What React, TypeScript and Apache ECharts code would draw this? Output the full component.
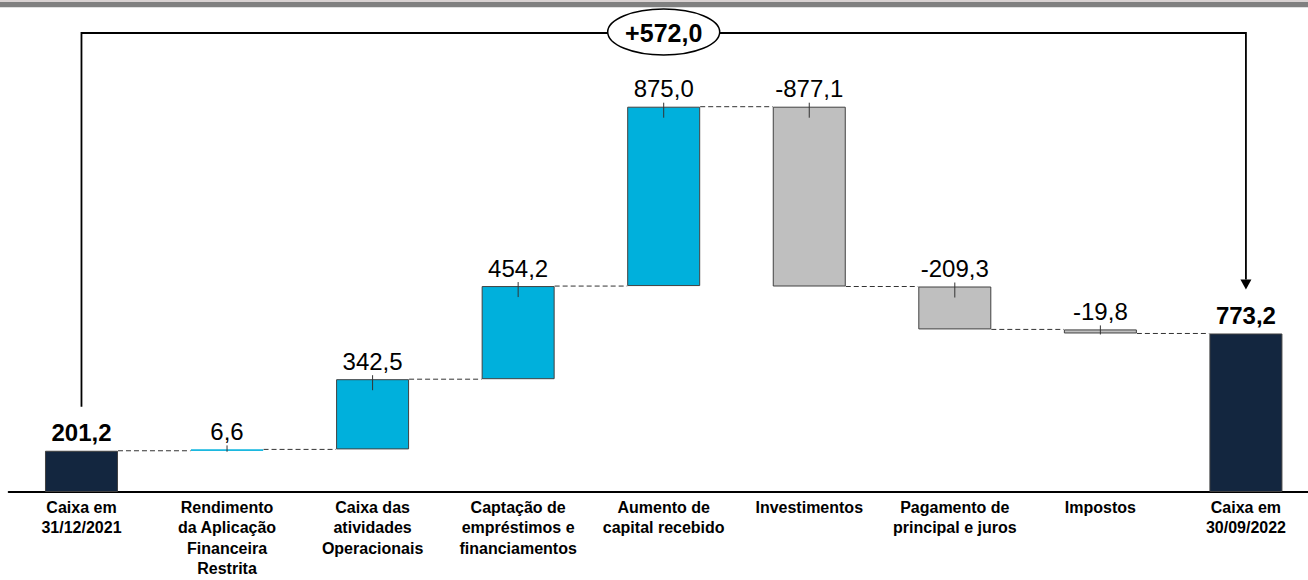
import React, { useEffect, useRef } from "react";
import * as echarts from "echarts";

const categories = [
  "Caixa em\n31/12/2021",
  "Rendimento\nda Aplicação\nFinanceira\nRestrita",
  "Caixa das\natividades\nOperacionais",
  "Captação de\nempréstimos e\nfinanciamentos",
  "Aumento de\ncapital recebido",
  "Investimentos",
  "Pagamento de\nprincipal e juros",
  "Impostos",
  "Caixa em\n30/09/2022",
];
const deltas = [201.2, 6.6, 342.5, 454.2, 875.0, -877.1, -209.3, -19.8, 773.2];
const kinds = ["total", "up", "up", "up", "up", "down", "down", "down", "total"];
const valueLabels = ["201,2", "6,6", "342,5", "454,2", "875,0", "-877,1", "-209,3", "-19,8", "773,2"];
const bracketLabel = "+572,0";

const FONT = "'Liberation Sans', Arial, sans-serif";
const NAVY = "#13263f";
const BLUE = "#00b0dc";
const GRAY = "#bfbfbf";
const EDGE = "#404040";
const BAR_W = 73;

export default function App() {
  const ref = useRef<HTMLDivElement>(null);
  useEffect(() => {
    if (!ref.current) return;
    const chart = echarts.init(ref.current, null, { renderer: "svg" });

    const starts: number[] = [];
    const ends: number[] = [];
    let run = 0;
    deltas.forEach((v, i) => {
      if (kinds[i] === "total") {
        starts.push(0);
        ends.push(v);
        run = v;
      } else {
        starts.push(run);
        run = run + v;
        ends.push(run);
      }
    });
    const lows = starts.map((s, i) => Math.min(s, ends[i]));
    const highs = starts.map((s, i) => Math.max(s, ends[i]));
    const n = categories.length;

    const colorOf = (k: string) => (k === "total" ? NAVY : k === "up" ? BLUE : GRAY);

    const option: any = {
      animation: false,
      grid: {
        left: 8.7,
        width: 1310,
        top: 82,
        bottom: 88,
        containLabel: false,
        outerBoundsMode: "none",
      },
      xAxis: {
        type: "category",
        data: categories,
        axisTick: { show: false },
        axisLine: { lineStyle: { color: "#000", width: 2 } },
        axisLabel: {
          interval: 0,
          color: "#000",
          fontFamily: FONT,
          fontSize: 16,
          fontWeight: "bold",
          lineHeight: 20.5,
          margin: 5,
        },
      },
      yAxis: { type: "value", min: 0, max: 2000, show: false, splitLine: { show: false } },
      graphic: [
        { type: "rect", shape: { x: 0, y: 0, width: 1308, height: 2 }, style: { fill: "#d9d2d2" } },
        { type: "rect", shape: { x: 0, y: 2, width: 1308, height: 5.3 }, style: { fill: "#808080" } },
      ],
      series: [
        {
          type: "bar",
          stack: "w",
          barWidth: BAR_W,
          silent: true,
          itemStyle: { color: "transparent" },
          data: lows,
        },
        {
          type: "bar",
          stack: "w",
          barWidth: BAR_W,
          data: deltas.map((v, i) => ({
            value: highs[i] - lows[i],
            itemStyle: {
              color: colorOf(kinds[i]),
              borderColor: i === 1 ? BLUE : EDGE,
              borderWidth: 1,
            },
            label: {
              show: true,
              position: "top",
              distance: 6,
              formatter: valueLabels[i],
              fontFamily: FONT,
              fontSize: 24,
              fontWeight: kinds[i] === "total" ? "bold" : "normal",
              color: "#000",
            },
          })),
        },
        {
          type: "custom",
          clip: false,
          silent: true,
          z: 5,
          data: categories.map((_, i) => [i, ends[i], highs[i], lows[i]]),
          renderItem: (params: any, api: any) => {
            const i = api.value(0);
            const band = api.size([1, 0])[0];
            const half = BAR_W / 2;
            const children: any[] = [];
            if (i < n - 1) {
              const p = api.coord([i, api.value(1)]);
              children.push({
                type: "line",
                shape: { x1: p[0] + half, y1: p[1], x2: p[0] + band - half, y2: p[1] },
                style: { stroke: "#333", lineWidth: 1, lineDash: [5, 3] },
              });
            }
            if (kinds[i] !== "total") {
              const t = api.coord([i, api.value(2)]);
              const b = api.coord([i, api.value(3)]);
              children.push({
                type: "line",
                shape: { x1: t[0], y1: t[1] - 4, x2: t[0], y2: Math.min(t[1] + 11, b[1] + 1) },
                style: { stroke: "#333", lineWidth: 1 },
              });
            }
            return { type: "group", children };
          },
        },
        {
          type: "custom",
          clip: false,
          silent: true,
          z: 6,
          data: [[0, n - 1]],
          renderItem: (params: any, api: any) => {
            const a = api.coord([0, deltas[0]]);
            const b = api.coord([n - 1, deltas[n - 1]]);
            const topY = 33;
            const gap = 44;
            const midX = (a[0] + b[0]) / 2;
            const tipY = b[1] - gap;
            return {
              type: "group",
              children: [
                {
                  type: "polyline",
                  shape: { points: [[a[0], a[1] - gap], [a[0], topY], [b[0], topY], [b[0], tipY - 10]] },
                  style: { stroke: "#000", lineWidth: 1.8, fill: "none" },
                },
                {
                  type: "polygon",
                  shape: { points: [[b[0] - 5.5, tipY - 10], [b[0] + 5.5, tipY - 10], [b[0], tipY]] },
                  style: { fill: "#000" },
                },
                {
                  type: "ellipse",
                  shape: { cx: midX, cy: 32, rx: 56, ry: 23 },
                  style: { fill: "#fff", stroke: "#000", lineWidth: 1.5 },
                },
                {
                  type: "text",
                  x: midX,
                  y: 33,
                  style: {
                    text: bracketLabel,
                    align: "center",
                    verticalAlign: "middle",
                    fontFamily: FONT,
                    fontSize: 25,
                    fontWeight: "bold",
                    fill: "#000",
                  },
                },
              ],
            };
          },
        },
      ],
    };
    chart.setOption(option);
    return () => chart.dispose();
  }, []);
  return (
    <div
      ref={ref}
      style={{ position: "absolute", left: 0, top: 0, width: 1308, height: 580, background: "#fff" }}
    />
  );
}
